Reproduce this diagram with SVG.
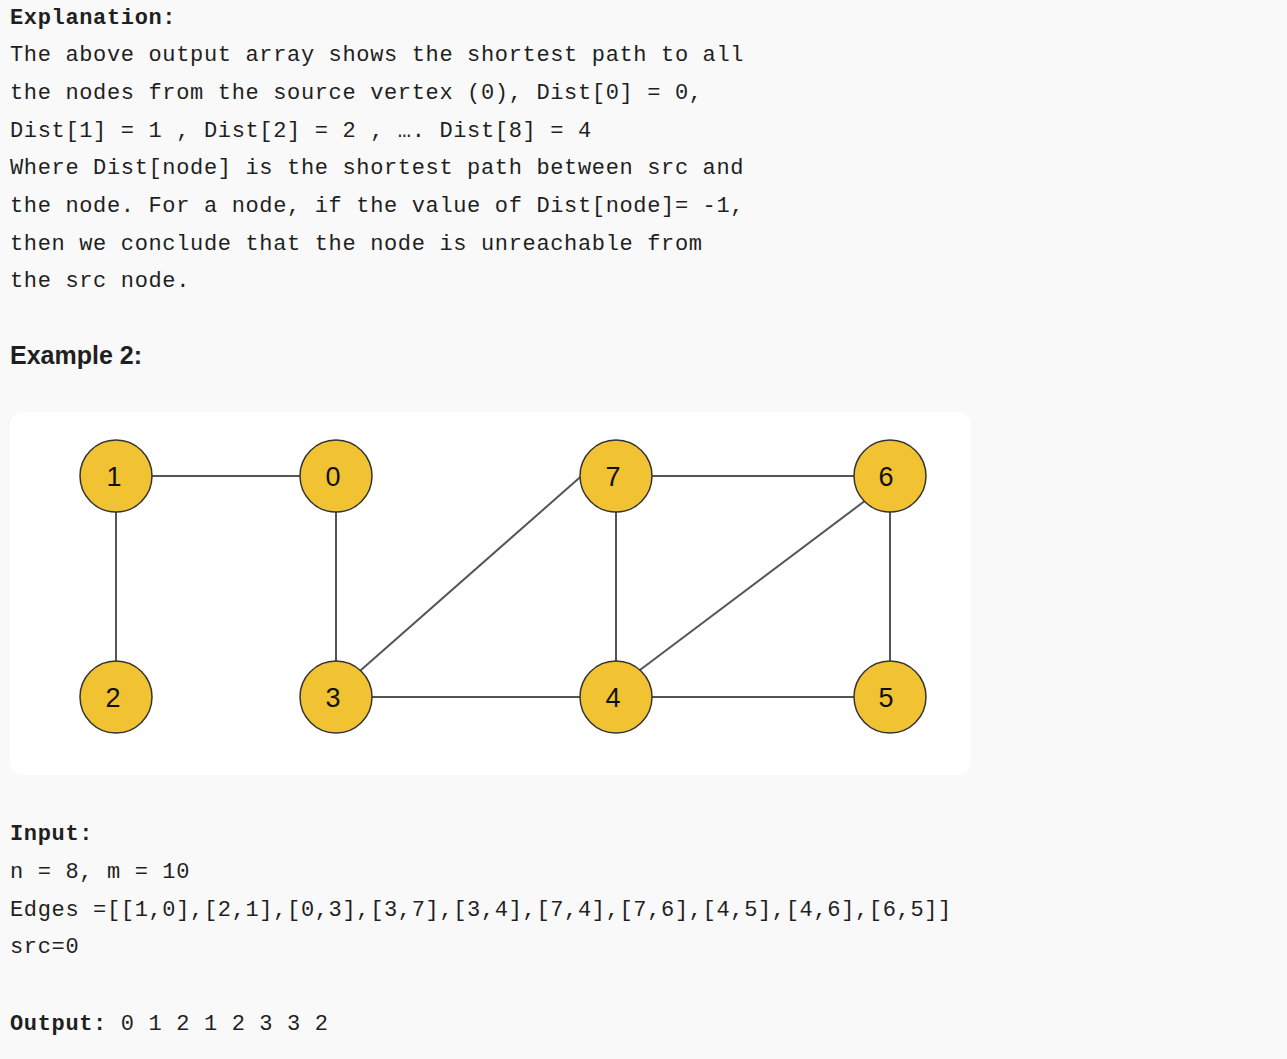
<svg xmlns="http://www.w3.org/2000/svg" width="1287" height="1059" viewBox="0 0 1287 1059">
<style>
.m{font-family:"Liberation Mono","DejaVu Sans Mono",monospace;font-size:22px;letter-spacing:0.65px;fill:#1f1f1f}
.b{font-weight:bold}
.h{font-family:"Liberation Sans","Inter",Arial,sans-serif;font-size:25px;font-weight:bold;fill:#1f1f1f}
.e{stroke:#555;stroke-width:2;fill:none}
.n circle{fill:#f1c232;stroke:#333;stroke-width:1.5}
.n text{font-family:"Liberation Sans",Arial,sans-serif;font-size:27px;fill:#111;text-anchor:middle}
</style>
<rect width="1287" height="1059" fill="#f9f9f9"/>
<g id="explanation">
<text class="m b" x="10" y="24">Explanation:</text>
<text class="m" x="10" y="61">The above output array shows the shortest path to all</text>
<text class="m" x="10" y="99">the nodes from the source vertex (0), Dist[0] = 0,</text>
<text class="m" x="10" y="137">Dist[1] = 1 , Dist[2] = 2 , …. Dist[8] = 4</text>
<text class="m" x="10" y="174">Where Dist[node] is the shortest path between src and</text>
<text class="m" x="10" y="212">the node. For a node, if the value of Dist[node]= -1,</text>
<text class="m" x="10" y="250">then we conclude that the node is unreachable from</text>
<text class="m" x="10" y="287">the src node.</text>
</g>
<text class="h" x="10" y="364">Example 2:</text>
<rect x="10" y="412" width="961" height="363" rx="13" fill="#ffffff"/>
<g id="connectors">
<line class="e" x1="116" y1="476" x2="336" y2="476"/>
<line class="e" x1="116" y1="476" x2="116" y2="697"/>
<line class="e" x1="336" y1="476" x2="336" y2="697"/>
<line class="e" x1="336" y1="692" x2="586" y2="472"/>
<line class="e" x1="336" y1="697" x2="616" y2="697"/>
<line class="e" x1="616" y1="476" x2="616" y2="697"/>
<line class="e" x1="616" y1="476" x2="890" y2="476"/>
<line class="e" x1="616" y1="697" x2="890" y2="697"/>
<line class="e" x1="616" y1="688" x2="890" y2="482"/>
<line class="e" x1="890" y1="476" x2="890" y2="697"/>
</g>
<g id="node1" class="n"><circle cx="116" cy="476" r="36"/><text x="114" y="486">1</text></g>
<g id="node0" class="n"><circle cx="336" cy="476" r="36"/><text x="333" y="486">0</text></g>
<g id="node7" class="n"><circle cx="616" cy="476" r="36"/><text x="613" y="486">7</text></g>
<g id="node6" class="n"><circle cx="890" cy="476" r="36"/><text x="886" y="486">6</text></g>
<g id="node2" class="n"><circle cx="116" cy="697" r="36"/><text x="113" y="707">2</text></g>
<g id="node3" class="n"><circle cx="336" cy="697" r="36"/><text x="333" y="707">3</text></g>
<g id="node4" class="n"><circle cx="616" cy="697" r="36"/><text x="613" y="707">4</text></g>
<g id="node5" class="n"><circle cx="890" cy="697" r="36"/><text x="886" y="707">5</text></g>
<g id="input">
<text class="m b" x="10" y="840">Input:</text>
<text class="m" x="10" y="878">n = 8, m = 10</text>
<text class="m" x="10" y="916">Edges =[[1,0],[2,1],[0,3],[3,7],[3,4],[7,4],[7,6],[4,5],[4,6],[6,5]]</text>
<text class="m" x="10" y="953">src=0</text>
<text class="m" x="10" y="1030"><tspan class="b">Output:</tspan> 0 1 2 1 2 3 3 2</text>
</g>
</svg>
